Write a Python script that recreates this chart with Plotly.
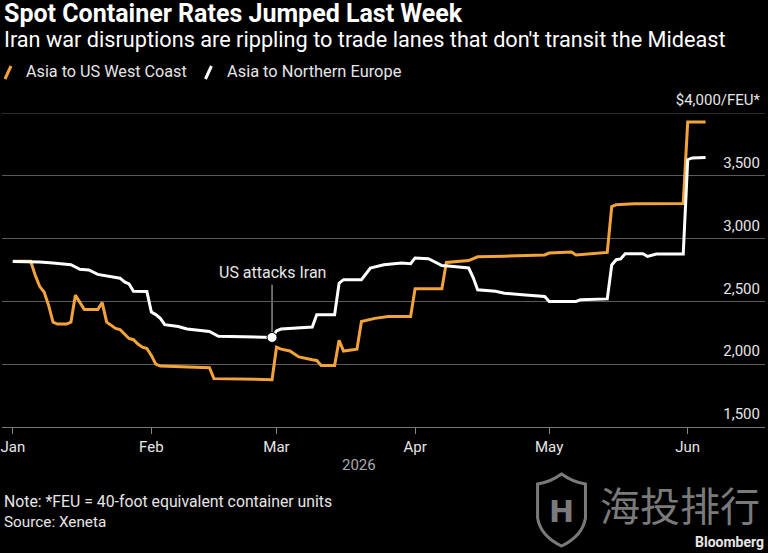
import plotly.graph_objects as go

# ---------------- data ----------------
us_dates = ["2026-01-01","2026-01-05","2026-01-06","2026-01-07","2026-01-08","2026-01-09","2026-01-10",
            "2026-01-11","2026-01-13","2026-01-14","2026-01-15","2026-01-17","2026-01-20","2026-01-21",
            "2026-01-22","2026-01-23","2026-01-24","2026-01-25","2026-01-26","2026-01-27","2026-01-28",
            "2026-01-29","2026-01-30","2026-01-31","2026-02-01","2026-02-02","2026-02-03","2026-02-06",
            "2026-02-10","2026-02-14","2026-02-15","2026-02-20","2026-02-28","2026-03-01","2026-03-02",
            "2026-03-04","2026-03-05","2026-03-06","2026-03-09","2026-03-10","2026-03-11","2026-03-14",
            "2026-03-15","2026-03-16","2026-03-19","2026-03-20","2026-03-23","2026-03-26","2026-03-31",
            "2026-04-01","2026-04-07","2026-04-08","2026-04-13","2026-04-15","2026-04-21","2026-04-30",
            "2026-05-01","2026-05-06","2026-05-07","2026-05-11","2026-05-14","2026-05-15","2026-05-16",
            "2026-05-20","2026-05-31","2026-06-01","2026-06-05"]
us_values = [2820,2820,2710,2620,2575,2470,2335,
             2320,2320,2335,2550,2435,2435,2490,
             2335,2310,2285,2275,2240,2205,2195,
             2160,2135,2125,2070,2000,1985,1982,
             1978,1972,1885,1880,1877,2135,2120,
             2105,2078,2058,2035,2030,1990,1990,
             2190,2105,2120,2340,2365,2380,2380,
             2600,2600,2810,2825,2855,2860,2870,
             2885,2893,2870,2880,2890,3255,3270,
             3278,3280,3928,3928]

eu_dates = ["2026-01-01","2026-01-06","2026-01-07","2026-01-10","2026-01-12","2026-01-14","2026-01-16",
            "2026-01-18","2026-01-20","2026-01-23","2026-01-25","2026-01-26","2026-01-27","2026-01-28",
            "2026-01-31","2026-02-01","2026-02-02","2026-02-03","2026-02-04","2026-02-07","2026-02-09",
            "2026-02-14","2026-02-16","2026-02-28","2026-03-01","2026-03-02","2026-03-06","2026-03-09",
            "2026-03-10","2026-03-14","2026-03-15","2026-03-16","2026-03-20","2026-03-22","2026-03-25",
            "2026-03-29","2026-03-31","2026-04-01","2026-04-04","2026-04-07","2026-04-09","2026-04-13",
            "2026-04-14","2026-04-15","2026-04-19","2026-04-21","2026-04-25","2026-04-30","2026-05-01",
            "2026-05-07","2026-05-08","2026-05-11","2026-05-14","2026-05-15","2026-05-16","2026-05-17",
            "2026-05-18","2026-05-22","2026-05-23","2026-05-25","2026-05-31","2026-06-01","2026-06-02",
            "2026-06-05"]
eu_values = [2818,2818,2814,2806,2800,2792,2755,
             2750,2715,2700,2685,2655,2640,2580,
             2578,2415,2395,2365,2315,2300,2280,
             2260,2222,2213,2265,2280,2288,2296,
             2394,2394,2645,2673,2673,2766,2792,
             2806,2800,2846,2840,2786,2779,2766,
             2690,2593,2580,2565,2553,2540,2500,
             2500,2513,2519,2520,2790,2832,2838,
             2880,2880,2858,2877,2877,3628,3642,
             3645]

series_names = ["Asia to US West Coast", "Asia to Northern Europe"]
month_ticks = ["2026-01-01","2026-02-01","2026-03-01","2026-04-01","2026-05-01","2026-06-01"]
month_labels = ["Jan","Feb","Mar","Apr","May","Jun"]
y_ticks = [1500, 2000, 2500, 3000, 3500, 4000]
y_labels = ["1,500", "2,000", "2,500", "3,000", "3,500", "$4,000/FEU*"]
event_date = "2026-02-28"
event_label = "US attacks Iran"

# ---------------- style ----------------
ORANGE = "#F2A33A"
WHITE = "#FFFFFF"
GRID = "#5a5a5a"
TXT = "#e6e6e6"
FONT = "Roboto, sans-serif"

W, H = 768, 553
L, R, T, B = 0, 3, 113, 126
PW, PH = W - L - R, H - T - B

def px(x):
    return (x - L) / PW

def py(y):
    return (H - B - y) / PH

fig = go.Figure()
fig.add_trace(go.Scatter(x=us_dates, y=us_values, mode="lines", name=series_names[0],
                         line=dict(color=ORANGE, width=3), hoverinfo="skip"))
fig.add_trace(go.Scatter(x=eu_dates, y=eu_values, mode="lines", name=series_names[1],
                         line=dict(color=WHITE, width=3), hoverinfo="skip"))
ev_val = eu_values[eu_dates.index(event_date)]
fig.add_trace(go.Scatter(x=[event_date], y=[ev_val], mode="markers",
                         marker=dict(color=WHITE, size=10, line=dict(color="#000", width=1)),
                         showlegend=False, hoverinfo="skip"))

ann = []
ann.append(dict(text="<b>Spot Container Rates Jumped Last Week</b>", x=px(0), y=py(14),
                xref="paper", yref="paper", xanchor="left", yanchor="middle", showarrow=False,
                font=dict(family=FONT, size=25, color=WHITE)))
ann.append(dict(text="Iran war disruptions are rippling to trade lanes that don't transit the Mideast",
                x=px(0), y=py(40), xref="paper", yref="paper", xanchor="left", yanchor="middle",
                showarrow=False, font=dict(family=FONT, size=21.7, color=WHITE)))
ann.append(dict(text=series_names[0], x=px(22), y=py(72), xref="paper", yref="paper",
                xanchor="left", yanchor="middle", showarrow=False,
                font=dict(family=FONT, size=16.2, color=TXT)))
ann.append(dict(text=series_names[1], x=px(224), y=py(72), xref="paper", yref="paper",
                xanchor="left", yanchor="middle", showarrow=False,
                font=dict(family=FONT, size=16.4, color=TXT)))
ann.append(dict(text="2026", x=px(358), y=py(465), xref="paper", yref="paper",
                xanchor="center", yanchor="middle", showarrow=False,
                font=dict(family=FONT, size=15, color="#aaaaaa")))
ann.append(dict(text="Note: *FEU = 40-foot equivalent container units", x=px(0), y=py(501),
                xref="paper", yref="paper", xanchor="left", yanchor="middle", showarrow=False,
                font=dict(family=FONT, size=15.8, color=TXT)))
ann.append(dict(text="Source: Xeneta", x=px(0), y=py(522),
                xref="paper", yref="paper", xanchor="left", yanchor="middle", showarrow=False,
                font=dict(family=FONT, size=15.3, color=TXT)))
ann.append(dict(text="<b>Bloomberg</b>", x=px(766), y=py(542),
                xref="paper", yref="paper", xanchor="right", yanchor="middle", showarrow=False,
                font=dict(family=FONT, size=14, color=TXT)))
ann.append(dict(text="海投排行", x=px(762), y=py(504),
                xref="paper", yref="paper", xanchor="right", yanchor="middle", showarrow=False,
                font=dict(family="Noto Sans CJK SC", size=40, color="#7a7a7a")))
ann.append(dict(text="<b>H</b>", x=px(561), y=py(511),
                xref="paper", yref="paper", xanchor="center", yanchor="middle", showarrow=False,
                font=dict(family="DejaVu Sans", size=30, color="#7a7a7a")))
ann.append(dict(text=event_label, x=event_date, y=2728, xref="x", yref="y",
                xanchor="center", yanchor="middle", showarrow=False,
                font=dict(family=FONT, size=16, color=TXT)))

shapes = []
# legend icons
shapes.append(dict(type="line", xref="paper", yref="paper", x0=px(3), y0=py(79), x1=px(9), y1=py(66),
                   line=dict(color=ORANGE, width=3)))
shapes.append(dict(type="line", xref="paper", yref="paper", x0=px(204), y0=py(79), x1=px(210), y1=py(66),
                   line=dict(color=WHITE, width=3)))
# event leader line
shapes.append(dict(type="line", xref="x", yref="y", x0=event_date, x1=event_date, y0=ev_val, y1=2633,
                   line=dict(color="#cccccc", width=1), layer="below"))
# top gridline (4000) at the plot edge
shapes.append(dict(type="line", xref="paper", yref="y", x0=0, x1=1, y0=y_ticks[-1], y1=y_ticks[-1],
                   line=dict(color=GRID, width=1), layer="below"))
# watermark shield
path = (f"M {px(537)},{py(484)} Q {px(550)},{py(482)} {px(561)},{py(474)} "
        f"Q {px(572)},{py(482)} {px(585)},{py(484)} L {px(585)},{py(518)} "
        f"Q {px(582)},{py(536)} {px(561)},{py(546)} Q {px(540)},{py(536)} {px(537)},{py(518)} Z")
shapes.append(dict(type="path", xref="paper", yref="paper", path=path,
                   line=dict(color="#7a7a7a", width=3), fillcolor="rgba(0,0,0,0)"))

fig.update_layout(
    width=W, height=H,
    margin=dict(l=L, r=R, t=T, b=B, pad=0),
    paper_bgcolor="#000000", plot_bgcolor="#000000",
    showlegend=False,
    annotations=ann, shapes=shapes,
    font=dict(family=FONT, color=TXT),
    xaxis=dict(type="date", range=["2025-12-29 14:00", "2026-06-18 07:00"],
               tickmode="array", tickvals=month_ticks, ticktext=month_labels,
               ticks="outside", ticklen=6, tickcolor="#888888", tickwidth=1,
               ticklabeloverflow="allow",
               showgrid=False, zeroline=False, showline=True, linecolor="#777777", linewidth=1,
               tickfont=dict(family=FONT, size=15, color=TXT)),
    yaxis=dict(range=[1500, 4000], side="right", tickmode="array", tickvals=y_ticks, ticktext=y_labels,
               ticklabelposition="inside", ticks="", showgrid=True, gridcolor=GRID, gridwidth=1,
               ticklabeloverflow="allow",
               zeroline=False, showline=False, ticklabelshift=-13, ticklabelstandoff=2,
               tickfont=dict(family=FONT, size=15, color=TXT)),
)

fig.write_html("out.html")
